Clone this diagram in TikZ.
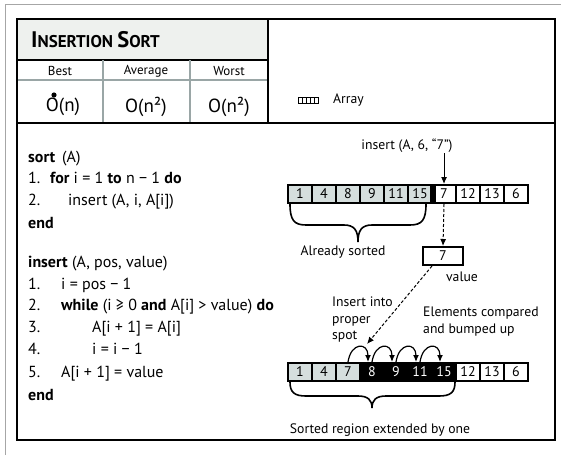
\documentclass[tikz,border=0pt]{standalone}
\usepackage{fontspec}
\setmainfont{PT Sans}
\usepackage{xcolor}
\definecolor{colSorted}{HTML}{D5DEDD}
\definecolor{colTitle}{HTML}{EEF1EE}
\definecolor{colRule}{HTML}{9AA6A6}
\usepackage{tikz}
\usetikzlibrary{arrows.meta, positioning, calc}

\begin{document}
\begin{tikzpicture}[x=1pt, y=-1pt,
	cell/.style={draw, line width=2pt, minimum width=24pt, minimum height=18pt, inner sep=0pt, font=\fontsize{14}{14}\selectfont},
	sortedCell/.style={cell, fill=colSorted},
	openCell/.style={cell, fill=white},
	bumpCell/.style={cell, fill=black, text=white},
	code/.style={anchor=base west, inner sep=0pt, font=\fontsize{16}{18}\selectfont},
	lbl/.style={inner sep=0pt, font=\fontsize{13.7}{16.5}\selectfont},
	head/.style={inner sep=0pt, font=\fontsize{13}{13}\selectfont},
	bigO/.style={inner sep=0pt, font=\fontsize{19}{19}\selectfont},
	dashArrow/.style={->, line width=1pt, dash pattern=on 3pt off 2pt},
	>={Latex[length=7pt,width=6pt]}]
				\useasboundingbox (0,0) rectangle (561,455);
				\draw[gray!70, line width=1pt] (5,455) -- (5,4) -- (561,4);
				\fill[colTitle] (17,19) rectangle (268,60);
				\draw[line width=1.2pt] (17,60) -- (268,60);
				\draw[colRule, line width=1.2pt] (17,80) -- (268,80);
				\draw[colRule, line width=1.5pt] (103,60) -- (103,123);
				\draw[colRule, line width=1.5pt] (190,60) -- (190,123);
				\draw[line width=1.5pt] (268,19) -- (268,123);
				\draw[line width=1.5pt] (17,19) rectangle (555,440);
				\draw[line width=2.2pt] (17,123) -- (555,123);
				% table
				\node[anchor=base west, inner sep=0pt] (title) at (31,47) {\bfseries\fontsize{22.5}{22}\selectfont I\fontsize{17}{17}\selectfont NSERTION \fontsize{22.5}{22}\selectfont S\fontsize{17}{17}\selectfont ORT};
				\node[head] (best) at (60,71) {Best};
				\node[head] (average) at (146,71) {Average};
				\node[head] (worst) at (229,71) {Worst};
				\node[bigO] (oBest) at (63,107) {O(n)};
				\node[bigO] (oAverage) at (146,107) {O(n²)};
				\node[bigO] (oWorst) at (229,107) {O(n²)};
				\fill (54,95) circle (2.6pt);
				\foreach \i in {0,...,4}
					\draw[line width=0.8pt] (298+4*\i,97) rectangle +(4,6);
				\node[lbl, anchor=west] (arrayKey) at (333,100) {Array};
				% pseudo code
				\node[code] (sortHead) at (28,162) {\textbf{sort} \,(A)};
				\node[code] (sortN1) at (28,183) {1.};
				\node[code] (sortL1) at (50,183) {\textbf{for} i = 1 \textbf{to} n − 1 \textbf{do}};
				\node[code] (sortN2) at (28,205) {2.};
				\node[code] (sortL2) at (68,205) {insert (A, i, A[i])};
				\node[code] (sortEnd) at (28,228) {\textbf{end}};
				\node[code] (insHead) at (28,267) {\textbf{insert} (A, pos, value)};
				\node[code] (insN1) at (28,289) {1.};
				\node[code] (insL1) at (61,289) {i = pos − 1};
				\node[code] (insN2) at (28,310) {2.};
				\node[code] (insL2) at (61,310) {\textbf{while} (i ≥ 0 \textbf{and} A[i] > value) \textbf{do}};
				\node[code] (insN3) at (28,332) {3.};
				\node[code] (insL3) at (92,332) {A[i + 1] = A[i]};
				\node[code] (insN4) at (28,354) {4.};
				\node[code] (insL4) at (92,354) {i = i − 1};
				\node[code] (insN5) at (28,377) {5.};
				\node[code] (insL5) at (61,377) {A[i + 1] = value};
				\node[code] (insEnd) at (28,400) {\textbf{end}};
				% array before
				\foreach \v [count=\k] in {1,4,8,9,11,15}
					\node[sortedCell] (a\k) at (276+24*\k,194) {\v};
				\foreach \v [count=\k from 7] in {7,12,13,6}
					\node[openCell] (a\k) at (276+24*\k,194) {\v};
				\fill ([xshift=-3pt]a6.north east) rectangle ([xshift=3pt]a6.south east);
				\node[lbl] (insCall) at (407,146) {insert (A, 6, “7”)};
				\draw[->, line width=1pt] (insCall.south -| a7) -- (a7.north);
				\node[cell, minimum width=40pt] (val) at (443,256) {7};
				\node[lbl] (valLabel) at (462,277) {value};
				\draw[dashArrow] (a7.south) -- (val.north);
				\draw[line width=1.6pt] (290,204) .. controls (290,220) and (294,225) .. (306,225) -- (344,225)
					.. controls (354,225) and (358,230) .. (358,242) .. controls (358,230) and (362,225) .. (372,225)
					-- (410,225) .. controls (422,225) and (426,220) .. (426,204);
				\node[lbl] (already) at (343,252) {Already sorted};
				% array after
				\foreach \v [count=\k] in {1,4,7}
					\node[sortedCell] (b\k) at (276+24*\k,372) {\v};
				\foreach \v [count=\k from 4] in {8,9,11,15}
					\node[bumpCell] (b\k) at (276+24*\k,372) {\v};
				\foreach \v [count=\k from 8] in {12,13,6}
					\node[openCell] (b\k) at (276+24*\k,372) {\v};
				\node[lbl, anchor=north west, align=left] (spotText) at (332,297) {Insert into\\proper\\spot};
				\node[lbl, anchor=north west, align=left] (bumpText) at (423,307) {Elements compared\\and bumped up};
				\coordinate (spot) at (367,344);
				\draw[dashArrow] ([xshift=10pt]val.south west) -- (spot);
				\foreach \k [evaluate=\k as \n using int(\k+1)] in {3,...,6}
					\draw[->, line width=1.2pt] (b\k.north) .. controls +(3,-20) and +(0,-20) .. ([xshift=-4pt]b\n.north);
				\draw[line width=1.6pt] (290,382) .. controls (290,392) and (294,396) .. (306,396) -- (358,396)
					.. controls (368,396) and (372,400) .. (372,408) .. controls (372,400) and (376,396) .. (386,396)
					-- (439,396) .. controls (451,396) and (455,392) .. (455,382);
				\node[lbl] (extended) at (380,430) {Sorted region extended by one};
			\end{tikzpicture}
\end{document}
